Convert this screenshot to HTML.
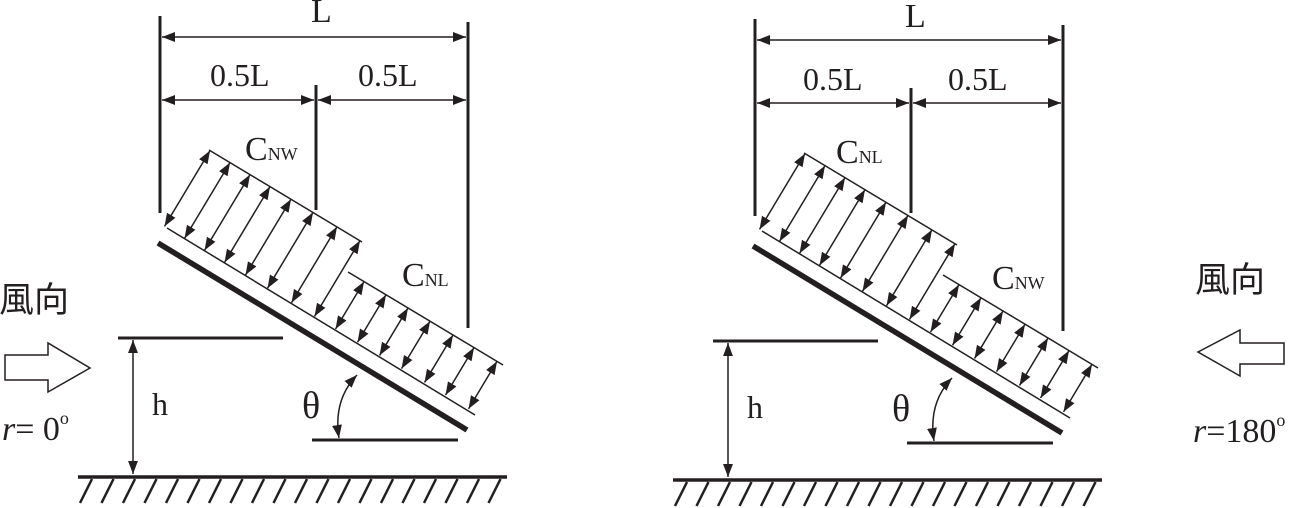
<!DOCTYPE html>
<html><head><meta charset="utf-8"><style>
html,body{margin:0;padding:0;background:#fff;}
svg{display:block;}
.s{font-family:"Liberation Serif",serif;fill:#231f20;}
.c{font-family:"Liberation Sans","Noto Sans CJK TC","Noto Sans CJK SC",sans-serif;fill:#231f20;}
</style></head><body>
<svg id="sv" width="1300" height="508" viewBox="0 0 1300 508" xmlns="http://www.w3.org/2000/svg">
<defs>
<marker id="ah" viewBox="0 0 10 10" refX="10" refY="5" markerWidth="13" markerHeight="13" markerUnits="userSpaceOnUse" orient="auto-start-reverse"><path d="M0,1.2 L10,5 L0,8.8 z" fill="#231f20"/></marker>
<g id="base" stroke="#231f20" fill="none">
<line x1="160" y1="16" x2="160" y2="213" stroke-width="3"/>
<line x1="468" y1="22" x2="468" y2="328" stroke-width="3"/>
<line x1="316" y1="85" x2="316" y2="210" stroke-width="3"/>
<line x1="162" y1="37" x2="466" y2="37" stroke-width="1.5" marker-start="url(#ah)" marker-end="url(#ah)"/>
<line x1="162" y1="100" x2="314" y2="100" stroke-width="1.5" marker-start="url(#ah)" marker-end="url(#ah)"/>
<line x1="318" y1="100" x2="466" y2="100" stroke-width="1.5" marker-start="url(#ah)" marker-end="url(#ah)"/>
<line x1="158" y1="243" x2="467" y2="430" stroke-width="5.5"/>
<line x1="167" y1="228" x2="475" y2="415" stroke-width="1.5"/>
<line x1="209" y1="150" x2="362" y2="242" stroke-width="1.5"/>
<line x1="348" y1="272" x2="503" y2="365" stroke-width="1.5"/>
<line x1="118" y1="338" x2="283" y2="338" stroke-width="3"/>
<line x1="133" y1="340" x2="133" y2="474" stroke-width="1.5" marker-start="url(#ah)" marker-end="url(#ah)"/>
<line x1="78" y1="477" x2="507" y2="477" stroke-width="3.5"/>
<line x1="312" y1="440" x2="458" y2="440" stroke-width="3"/>
<path d="M357,375 Q333,400 339,438" stroke-width="1.5" marker-start="url(#ah)" marker-end="url(#ah)"/>
<g id="arr" stroke-width="1.5"></g>
<g id="hat" stroke-width="2.5"></g>
</g>
</defs>
<use href="#base"/>
<use href="#base" transform="translate(595,3)"/>

<text class="s" x="311" y="22" font-size="34">L</text>
<text class="s" x="210" y="86" font-size="32">0.5L</text>
<text class="s" x="358" y="86" font-size="32">0.5L</text>
<text class="s" x="245" y="160" font-size="34">C<tspan font-size="18">NW</tspan></text>
<text class="s" x="402" y="286" font-size="34">C<tspan font-size="18">NL</tspan></text>
<text class="s" x="152" y="415" font-size="32">h</text>
<text class="s" x="302" y="418" font-size="38">θ</text>
<text class="c" x="-1" y="312" font-size="35">風向</text>
<path d="M5,355 H48 V343 L90,368 L48,392 V380 H5 Z" fill="none" stroke="#231f20" stroke-width="1.5"/>
<text class="s" x="2" y="440" font-size="34"><tspan font-style="italic">r</tspan>= 0<tspan font-size="18" dy="-16">o</tspan></text>

<text class="s" x="905" y="27" font-size="34">L</text>
<text class="s" x="803" y="90" font-size="32">0.5L</text>
<text class="s" x="948" y="90" font-size="32">0.5L</text>
<text class="s" x="836" y="163" font-size="34">C<tspan font-size="18">NL</tspan></text>
<text class="s" x="992" y="289" font-size="34">C<tspan font-size="18">NW</tspan></text>
<text class="s" x="747" y="418" font-size="32">h</text>
<text class="s" x="892" y="421" font-size="38">θ</text>
<text class="c" x="1195" y="292" font-size="35">風向</text>
<path d="M1284,343 H1240 V330 L1198,352 L1240,376 V364 H1284 Z" fill="none" stroke="#231f20" stroke-width="1.5"/>
<text class="s" x="1193" y="442" font-size="34"><tspan font-style="italic">r</tspan>=180<tspan font-size="18" dy="-16">o</tspan></text>
</svg>
<script>
(function(){
var ns="http://www.w3.org/2000/svg";
var arr=document.getElementById('arr'),hat=document.getElementById('hat');
function B(x){return 228+0.6*(x-167);}
function T1(x){return 150+0.6*(x-209);}
function T2(x){return 272+0.6*(x-348);}
var ux=0.514,uy=-0.857;
function add(x,T){var ty=T(x);var d=(B(x)-ty)*0.857;var bx=x-d*ux,by=ty+d*(-uy);
var l=document.createElementNS(ns,'line');l.setAttribute('x1',bx);l.setAttribute('y1',by);l.setAttribute('x2',x);l.setAttribute('y2',ty);
l.setAttribute('marker-start','url(#ah)');l.setAttribute('marker-end','url(#ah)');arr.appendChild(l);}
[210,230,250,270,291,313,337,360].forEach(function(x){add(x,T1);});
[364,386,408,430,453,474,497].forEach(function(x){add(x,T2);});
for(var x=92;x<=502;x+=21.5){var l=document.createElementNS(ns,'line');l.setAttribute('x1',x);l.setAttribute('y1',479);l.setAttribute('x2',x-12);l.setAttribute('y2',503);hat.appendChild(l);}
})();
</script>
</body></html>
